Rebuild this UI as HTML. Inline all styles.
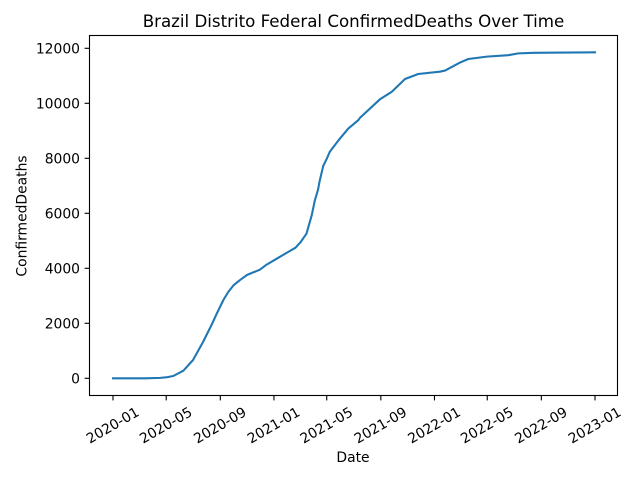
<!DOCTYPE html>
<html>
<head>
<meta charset="utf-8">
<style>
html,body{margin:0;padding:0;background:#fff;width:640px;height:480px;overflow:hidden}
svg{display:block}
text{font-family:"DejaVu Sans",sans-serif;fill:#000}
</style>
</head>
<body>
<svg id="chart" width="640" height="480" viewBox="0 0 640 480" xmlns="http://www.w3.org/2000/svg">
<text x="353.5" y="27" font-size="16.67" text-anchor="middle">Brazil Distrito Federal ConfirmedDeaths Over Time</text>
<text x="353" y="462" font-size="13.89" text-anchor="middle">Date</text>
<text transform="translate(26.5,216) rotate(-90)" font-size="13.89" text-anchor="middle">ConfirmedDeaths</text>
<g id="ticks"></g>
<path id="series" fill="none" stroke="#1f77b4" stroke-width="2.08" stroke-linejoin="round" stroke-linecap="square"></path>
<rect x="89.5" y="35.5" width="528" height="360" fill="none" stroke="#000" stroke-width="1.11"></rect>
</svg>
<script>
const dates = ["2020-01-01","2020-03-15","2020-04-17","2020-05-01","2020-05-17","2020-06-09","2020-07-01","2020-07-24","2020-08-12","2020-08-24","2020-09-08","2020-09-19","2020-10-01","2020-10-15","2020-11-01","2020-11-30","2020-12-15","2021-01-01","2021-02-06","2021-02-19","2021-03-03","2021-03-16","2021-03-28","2021-04-04","2021-04-11","2021-04-15","2021-04-23","2021-05-01","2021-05-08","2021-05-27","2021-06-19","2021-07-12","2021-07-16","2021-08-30","2021-09-26","2021-10-26","2021-11-25","2022-01-13","2022-01-25","2022-02-28","2022-03-19","2022-04-30","2022-06-18","2022-07-11","2022-08-15","2023-01-01"];
const deaths = [0,0,15,35,84,276,665,1330,1938,2352,2847,3138,3380,3564,3760,3950,4130,4290,4630,4750,4960,5262,5935,6473,6847,7180,7720,7980,8240,8640,9080,9390,9480,10145,10422,10884,11065,11150,11190,11480,11611,11698,11750,11815,11835,11855];
const xTickLabels = ["2020-01","2020-05","2020-09","2021-01","2021-05","2021-09","2022-01","2022-05","2022-09","2023-01"];
const yTickLabels = [0,2000,4000,6000,8000,10000,12000];

const NS = "http://www.w3.org/2000/svg";
const DAY = 86400000;
const origin = Date.UTC(2020,0,1);
function toDays(s){const p=s.split("-");return (Date.UTC(+p[0],+p[1]-1,+(p[2]||1))-origin)/DAY;}
function xScale(s){return 113+toDays(s)*(482/1096);}
function yScale(v){return 378.3-v*0.0275;}

const ticks = document.getElementById("ticks");
xTickLabels.forEach(function(l){
  const x = xScale(l);
  const t = document.createElementNS(NS,"line");
  
  
  t.setAttribute("x1",x);t.setAttribute("x2",x);t.setAttribute("y1",395.5);t.setAttribute("y2",400.4);
  t.setAttribute("stroke","#000");t.setAttribute("stroke-width","1.11");
  ticks.appendChild(t);
  const e = document.createElementNS(NS,"text");
  
  
  e.setAttribute("font-size","13.89");
  e.setAttribute("text-anchor","middle");
  e.setAttribute("transform","translate("+(x-0.5)+",425) rotate(-30) translate(0,5)");
  e.textContent = l;
  ticks.appendChild(e);
});
yTickLabels.forEach(function(v){
  const y = yScale(v);
  const t = document.createElementNS(NS,"line");
  
  
  t.setAttribute("x1",84.6);t.setAttribute("x2",89.5);t.setAttribute("y1",y);t.setAttribute("y2",y);
  t.setAttribute("stroke","#000");t.setAttribute("stroke-width","1.11");
  ticks.appendChild(t);
  const e = document.createElementNS(NS,"text");
  
  
  e.setAttribute("font-size","13.89");
  e.setAttribute("text-anchor","end");
  e.setAttribute("x",80);
  e.setAttribute("y",y+5.2);
  e.textContent = v;
  ticks.appendChild(e);
});
document.getElementById("series").setAttribute("d",
  dates.map(function(d,i){return (i?"L":"M")+xScale(d).toFixed(2)+" "+yScale(deaths[i]).toFixed(2);}).join(" "));
</script>
</body>
</html>
